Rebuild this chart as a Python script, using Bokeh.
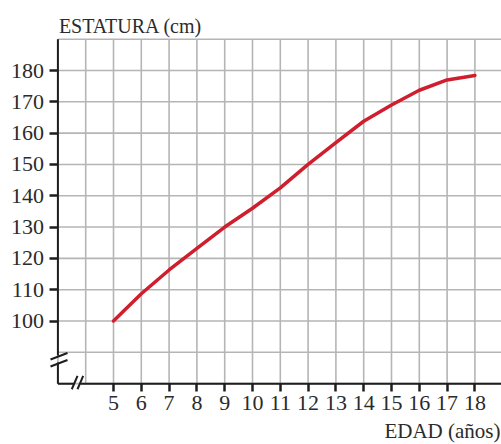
from bokeh.plotting import figure
from bokeh.models import FixedTicker, Label
from bokeh.embed import file_html
from bokeh.resources import INLINE

# ---- data ----
edad = [5, 6, 7, 8, 9, 10, 11, 12, 13, 14, 15, 16, 17, 18]
estatura = [100, 108.7, 116.3, 123.2, 130, 136, 142.5, 150, 157, 163.8, 169, 173.7, 177, 178.4]

x_ticks = [5, 6, 7, 8, 9, 10, 11, 12, 13, 14, 15, 16, 17, 18]
y_ticks = [100, 110, 120, 130, 140, 150, 160, 170, 180]
x_grid = list(range(3, 20))
y_grid = list(range(80, 200, 10))

X_MIN, X_MAX = 3, 19      # drawn grid extent
Y_MIN, Y_MAX = 80, 190

FONT = "Liberation Serif"
TXT = "#2b2b2b"
AX = "#1e1e1e"
GRID = "#b5b5b5"

# the frame fills the whole canvas; axes are pinned at x=3 / y=80
p = figure(width=501, height=444, x_range=(0.935, 18.957), y_range=(60.56, 202.36),
           output_backend="svg", toolbar_location=None,
           min_border_left=0, min_border_right=0, min_border_top=0, min_border_bottom=0)
p.outline_line_color = None
p.background_fill_color = "white"
p.xgrid.visible = False
p.ygrid.visible = False

# grid (drawn from the grid lists, limited to the chart area)
p.segment(x0=x_grid, y0=[Y_MIN] * len(x_grid), x1=x_grid, y1=[Y_MAX] * len(x_grid),
          line_color=GRID, line_width=1.6)
p.segment(x0=[X_MIN] * len(y_grid), y0=y_grid, x1=[X_MAX] * len(y_grid), y1=y_grid,
          line_color=GRID, line_width=1.6)

# axes with ticks and labels
p.xaxis.ticker = FixedTicker(ticks=x_ticks)
p.yaxis.ticker = FixedTicker(ticks=y_ticks)
p.xaxis.fixed_location = Y_MIN
p.yaxis.fixed_location = X_MIN
for ax in (p.xaxis, p.yaxis):
    ax.axis_line_color = None
    ax.major_tick_line_color = AX
    ax.major_tick_line_width = 2.5
    ax.major_tick_in = 0
    ax.major_tick_out = 8
    ax.minor_tick_line_color = None
    ax.major_label_text_font = FONT
    ax.major_label_text_color = TXT
    ax.major_label_text_font_size = "22px"
p.xaxis.major_label_standoff = 4
p.yaxis.major_label_standoff = 6

# axis lines with breaks
GY0, GY1 = Y_MIN + 6.74, Y_MIN + 8.97
GX0, GX1 = X_MIN + 0.579, X_MIN + 0.813
p.segment(x0=[X_MIN, X_MIN, X_MIN, GX1], y0=[Y_MIN, GY1, Y_MIN, Y_MIN],
          x1=[X_MIN, X_MIN, GX0, X_MAX], y1=[GY0, Y_MAX, Y_MIN, Y_MIN],
          line_color=AX, line_width=2)
p.segment(x0=[X_MIN - 0.266, X_MIN - 0.266, X_MIN + 0.50, X_MIN + 0.705],
          y0=[Y_MIN + 7.70, Y_MIN + 5.46, Y_MIN - 1.79, Y_MIN - 1.79],
          x1=[X_MIN + 0.345, X_MIN + 0.345, X_MIN + 0.705, X_MIN + 0.910],
          y1=[Y_MIN + 9.77, Y_MIN + 7.54, Y_MIN + 2.49, Y_MIN + 2.49],
          line_color=AX, line_width=2)

# curve
p.line(edad, estatura, line_color="#cf1f2e", line_width=3.5, line_cap="round", line_join="round")

# axis titles
p.add_layout(Label(x=X_MIN, y=Y_MAX, text="ESTATURA (cm)", x_offset=1, y_offset=13,
                   text_baseline="alphabetic", text_align="left",
                   text_font=FONT, text_font_size="20px", text_color=TXT))
p.add_layout(Label(x=p.x_range.end, y=Y_MIN, text="EDAD (años)", x_offset=-1, y_offset=-47,
                   text_baseline="alphabetic", text_align="right",
                   text_font=FONT, text_font_size="21px", text_color=TXT))

open("out.html", "w").write(file_html(p, INLINE))
